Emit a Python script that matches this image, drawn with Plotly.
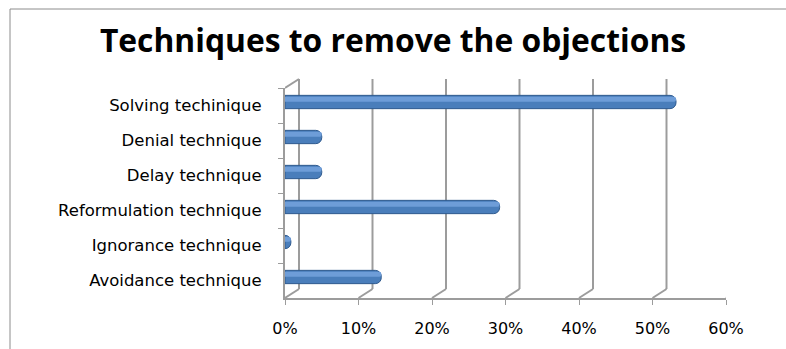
import plotly.graph_objects as go

categories = ["Solving techinique", "Denial technique", "Delay technique",
              "Reformulation technique", "Ignorance technique", "Avoidance technique"]
values = [53.2, 5.0, 5.0, 29.2, 0.8, 13.1]
x_ticks = [0, 10, 20, 30, 40, 50, 60]
x_tick_labels = ["0%", "10%", "20%", "30%", "40%", "50%", "60%"]

W, H = 786, 349
ML, MR, MT, MB = 285, 60, 88, 51
PW, PH = W - ML - MR, H - MT - MB

def px_x(p):
    return (p - ML) / PW

def px_y(p):
    return (H - MB - p) / PH

DX = 14 * 60 / PW      # depth offset in data units
DY = 9 / PH            # depth offset in paper units

fig = go.Figure()
fig.add_trace(go.Bar(
    y=categories, x=values, orientation="h",
    width=0.38, offset=-0.19 - 0.1,
    marker=dict(color="#4A7EBB", line=dict(color="#2F5A8E", width=1), cornerradius=6),
    hoverinfo="skip",
))
fig.add_trace(go.Bar(
    y=categories, x=values, orientation="h",
    width=0.14, offset=-0.19 - 0.06,
    marker=dict(color="#6E9DD8", line=dict(width=0), cornerradius=4),
    hoverinfo="skip",
))

grid = dict(color="#9C9C9C", width=2)
shapes = []
for t in x_ticks[:-1]:
    shapes.append(dict(type="line", xref="x", yref="paper",
                       x0=t + DX, x1=t + DX, y0=DY, y1=1 + DY, line=grid, layer="below"))
for t in x_ticks:
    shapes.append(dict(type="line", xref="x", yref="paper",
                       x0=t, x1=t + DX, y0=0, y1=DY, line=grid, layer="below"))
shapes.append(dict(type="line", xref="x", yref="paper",
                   x0=0, x1=DX, y0=1, y1=1 + DY, line=grid, layer="below"))
shapes.append(dict(type="line", xref="paper", yref="paper",
                   x0=px_x(10), x1=px_x(800), y0=px_y(9), y1=px_y(9),
                   line=dict(color="#8C8C8C", width=1)))
shapes.append(dict(type="line", xref="paper", yref="paper",
                   x0=px_x(10), x1=px_x(10), y0=px_y(9), y1=px_y(360),
                   line=dict(color="#8C8C8C", width=1)))

fig.update_layout(
    width=W, height=H,
    margin=dict(l=ML, r=MR, t=MT, b=MB),
    paper_bgcolor="white", plot_bgcolor="white",
    barmode="overlay", showlegend=False,
    title=dict(text="<b>Techniques to remove the objections</b>",
               x=0.5, xanchor="center", xref="container",
               y=1 - 41 / H, yanchor="middle", yref="container",
               font=dict(family="Open Sans", size=31.8, color="black")),
    shapes=shapes,
    xaxis=dict(range=[0, 60], tickvals=x_ticks, ticktext=x_tick_labels,
               showgrid=False, zeroline=False,
               showline=True, linecolor="#9C9C9C", linewidth=2,
               ticks="outside", ticklen=5, tickcolor="#9C9C9C", tickwidth=1,
               ticklabelstandoff=10,
               tickfont=dict(family="DejaVu Sans", size=16, color="black")),
    yaxis=dict(autorange="reversed", showgrid=False, zeroline=False,
               showline=True, linecolor="#9C9C9C", linewidth=2,
               ticks="outside", ticklen=5, tickcolor="#9C9C9C", tickwidth=1,
               tickson="boundaries", ticklabelstandoff=18,
               tickfont=dict(family="DejaVu Sans", size=16.5, color="black")),
)

fig.write_html("out.html", config={"displayModeBar": False},
               post_script="document.body.style.margin='0';")
